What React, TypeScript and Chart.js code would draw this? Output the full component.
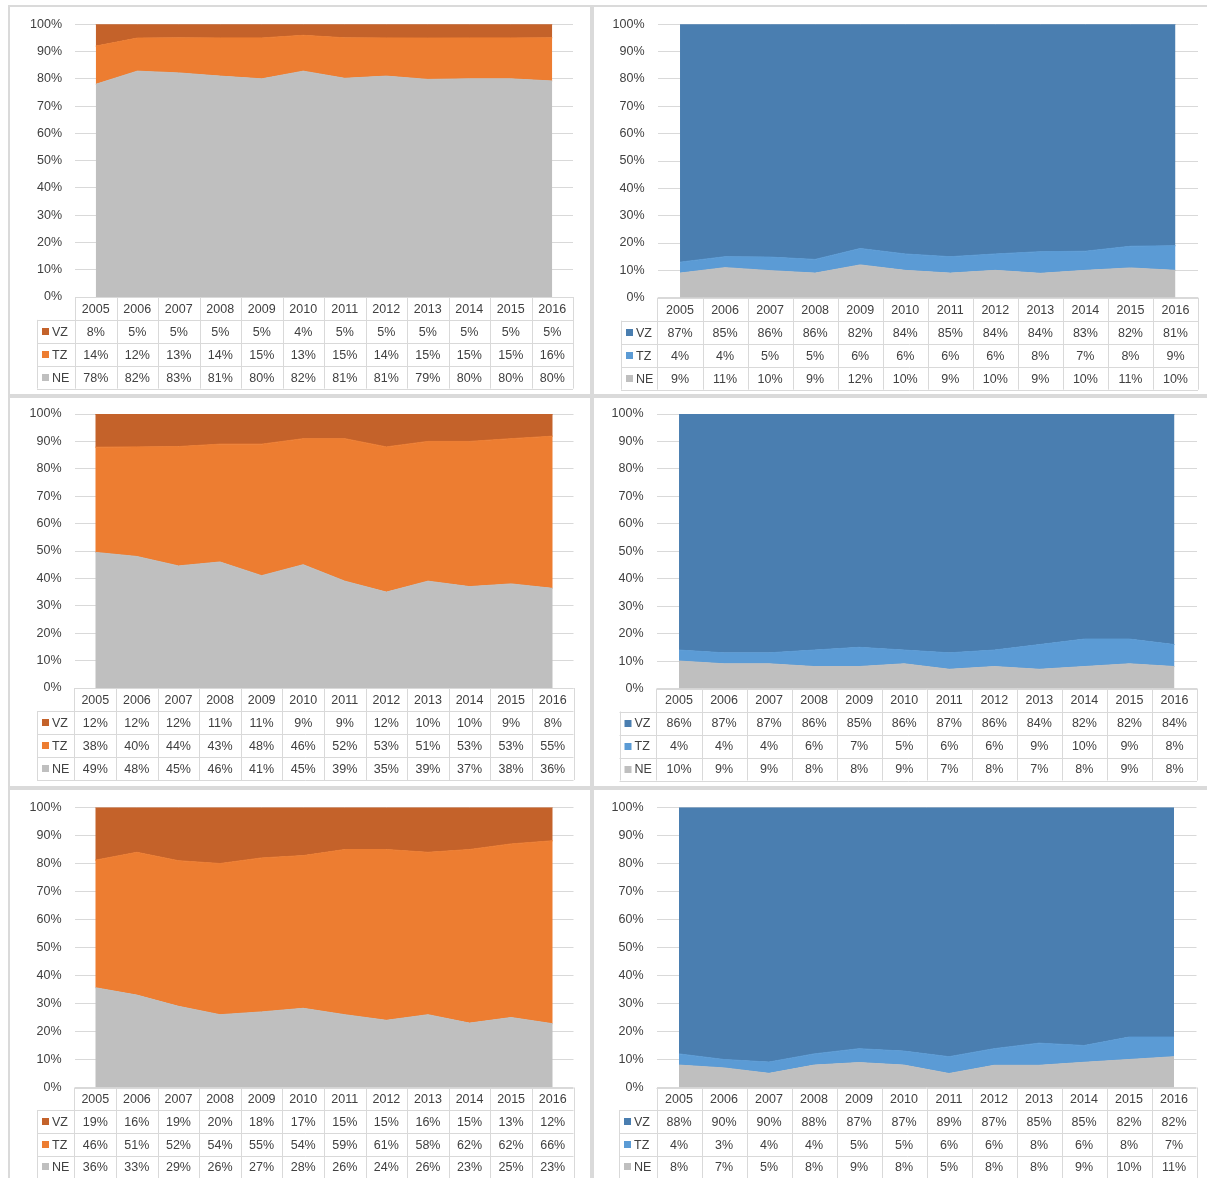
import React, { useEffect, useRef } from "react";
import { Chart, registerables } from "chart.js";

Chart.register(...registerables);

const years = ["2005", "2006", "2007", "2008", "2009", "2010", "2011", "2012", "2013", "2014", "2015", "2016"];
const yTicks = [0, 10, 20, 30, 40, 50, 60, 70, 80, 90, 100];
const rowNames = ["VZ", "TZ", "NE"];

const p1VZ = [8, 5, 5, 5, 5, 4, 5, 5, 5, 5, 5, 5];
const p1TZ = [14, 12, 13, 14, 15, 13, 15, 14, 15, 15, 15, 16];
const p1NE = [78, 82, 83, 81, 80, 82, 81, 81, 79, 80, 80, 80];

const p2VZ = [87, 85, 86, 86, 82, 84, 85, 84, 84, 83, 82, 81];
const p2TZ = [4, 4, 5, 5, 6, 6, 6, 6, 8, 7, 8, 9];
const p2NE = [9, 11, 10, 9, 12, 10, 9, 10, 9, 10, 11, 10];

const p3VZ = [12, 12, 12, 11, 11, 9, 9, 12, 10, 10, 9, 8];
const p3TZ = [38, 40, 44, 43, 48, 46, 52, 53, 51, 53, 53, 55];
const p3NE = [49, 48, 45, 46, 41, 45, 39, 35, 39, 37, 38, 36];

const p4VZ = [86, 87, 87, 86, 85, 86, 87, 86, 84, 82, 82, 84];
const p4TZ = [4, 4, 4, 6, 7, 5, 6, 6, 9, 10, 9, 8];
const p4NE = [10, 9, 9, 8, 8, 9, 7, 8, 7, 8, 9, 8];

const p5VZ = [19, 16, 19, 20, 18, 17, 15, 15, 16, 15, 13, 12];
const p5TZ = [46, 51, 52, 54, 55, 54, 59, 61, 58, 62, 62, 66];
const p5NE = [36, 33, 29, 26, 27, 28, 26, 24, 26, 23, 25, 23];

const p6VZ = [88, 90, 90, 88, 87, 87, 89, 87, 85, 85, 82, 82];
const p6TZ = [4, 3, 4, 4, 5, 5, 6, 6, 8, 6, 8, 7];
const p6NE = [8, 7, 5, 8, 9, 8, 5, 8, 8, 9, 10, 11];

const orangeColors = { vz: "#c4622a", tz: "#ed7d31", ne: "#bfbfbf" };
const blueColors = { vz: "#4a7eb0", tz: "#5b9bd5", ne: "#bfbfbf" };

const FONT = '"Liberation Sans", Arial, sans-serif';
const FONT_SIZE = 12.5;
const TEXT = "#404040";

type Box = { x: number; y: number; w: number; h: number };
type Plot = { l: number; r: number; t: number; b: number };
type PanelCfg = {
  vz: number[];
  tz: number[];
  ne: number[];
  colors: { vz: string; tz: string; ne: string };
  box: Box;
  plot: Plot;
  labelLeft: number;
  rowH: number;
};

const panels: PanelCfg[] = [
  { vz: p1VZ, tz: p1TZ, ne: p1NE, colors: orangeColors, box: { x: 12, y: 0, w: 578, h: 392 }, plot: { l: 75, r: 573, t: 24.3, b: 297 }, labelLeft: 37, rowH: 22.9 },
  { vz: p2VZ, tz: p2TZ, ne: p2NE, colors: blueColors, box: { x: 596, y: 0, w: 608, h: 392 }, plot: { l: 657.5, r: 1198, t: 24.3, b: 297.7 }, labelLeft: 621, rowH: 23 },
  { vz: p3VZ, tz: p3TZ, ne: p3NE, colors: orangeColors, box: { x: 12, y: 390, w: 578, h: 395 }, plot: { l: 74.5, r: 573.5, t: 414, b: 688 }, labelLeft: 37, rowH: 23 },
  { vz: p4VZ, tz: p4TZ, ne: p4NE, colors: blueColors, box: { x: 596, y: 390, w: 608, h: 395 }, plot: { l: 656.5, r: 1197, t: 414, b: 688.5 }, labelLeft: 619.5, rowH: 23 },
  { vz: p5VZ, tz: p5TZ, ne: p5NE, colors: orangeColors, box: { x: 12, y: 783, w: 578, h: 395 }, plot: { l: 74.5, r: 573.5, t: 807.5, b: 1087.5 }, labelLeft: 37, rowH: 22.7 },
  { vz: p6VZ, tz: p6TZ, ne: p6NE, colors: blueColors, box: { x: 596, y: 783, w: 608, h: 395 }, plot: { l: 656.5, r: 1196.5, t: 807.5, b: 1087.5 }, labelLeft: 619, rowH: 22.7 },
];

function Panel({ cfg }: { cfg: PanelCfg }) {
  const ref = useRef<HTMLCanvasElement>(null);
  useEffect(() => {
    if (!ref.current) return;
    const { box, plot } = cfg;
    const sums = cfg.ne.map((v, i) => v + cfg.tz[i] + cfg.vz[i]);
    const norm = (arr: number[]) => arr.map((v, i) => (v / sums[i]) * 100);
    const rowData = [cfg.vz, cfg.tz, cfg.ne];
    const rowColors = [cfg.colors.vz, cfg.colors.tz, cfg.colors.ne];

    const tablePlugin = {
      id: "dataTable",
      afterDraw(chart: any) {
        const ctx = chart.ctx as CanvasRenderingContext2D;
        const xs = chart.scales.x;
        const area = chart.chartArea;
        const n = years.length;
        const c0 = xs.getPixelForValue(0);
        const c1 = xs.getPixelForValue(1);
        const colW = c1 - c0;
        const edge = (j: number) => c0 - colW / 2 + j * colW;
        const top = area.bottom;
        const rh = cfg.rowH;
        const labelL = cfg.labelLeft - box.x;
        const px = (v: number) => Math.round(v) + 0.5;
        ctx.save();
        ctx.strokeStyle = "#d9d9d9";
        ctx.lineWidth = 1;
        ctx.beginPath();
        for (let k = 0; k <= 4; k++) {
          const y = px(top + k * rh);
          ctx.moveTo(k === 0 ? edge(0) : labelL, y);
          ctx.lineTo(edge(n), y);
        }
        for (let j = 0; j <= n; j++) {
          const xx = px(edge(j));
          ctx.moveTo(xx, top);
          ctx.lineTo(xx, top + 4 * rh);
        }
        ctx.moveTo(px(labelL), top + rh);
        ctx.lineTo(px(labelL), top + 4 * rh);
        ctx.stroke();

        ctx.font = `${FONT_SIZE}px ${FONT}`;
        ctx.fillStyle = TEXT;
        ctx.textAlign = "center";
        ctx.textBaseline = "middle";
        const labels = chart.data.labels as string[];
        for (let i = 0; i < n; i++) {
          const cx = xs.getPixelForValue(i);
          ctx.fillText(labels[i], cx, top + rh / 2 + 1);
          for (let r = 0; r < 3; r++) {
            ctx.fillText(`${rowData[r][i]}%`, cx, top + (r + 1) * rh + rh / 2 + 1);
          }
        }
        ctx.textAlign = "left";
        for (let r = 0; r < 3; r++) {
          const cy = top + (r + 1) * rh + rh / 2;
          ctx.fillStyle = rowColors[r];
          ctx.fillRect(labelL + 5, Math.round(cy - 3.5), 7, 7);
          ctx.fillStyle = TEXT;
          ctx.fillText(rowNames[r], labelL + 15, cy + 1);
        }
        ctx.restore();
      },
    };

    const mk = (label: string, data: number[], color: string, fill: any) => ({
      label,
      data,
      backgroundColor: color,
      borderColor: color,
      borderWidth: 1,
      pointRadius: 0,
      pointHoverRadius: 0,
      tension: 0,
      fill,
    });

    const chart = new Chart(ref.current, {
      type: "line",
      data: {
        labels: years,
        datasets: [
          mk("NE", norm(cfg.ne), cfg.colors.ne, "origin"),
          mk("TZ", norm(cfg.tz), cfg.colors.tz, "-1"),
          mk("VZ", norm(cfg.vz), cfg.colors.vz, "-1"),
        ],
      },
      options: {
        responsive: false,
        animation: false,
        devicePixelRatio: 1,
        layout: {
          padding: {
            left: 0,
            top: plot.t - box.y,
            right: box.w - (plot.r - box.x),
            bottom: box.h - (plot.b - box.y),
          },
        },
        plugins: { legend: { display: false }, tooltip: { enabled: false } },
        scales: {
          x: { type: "category", display: false, offset: true, grid: { display: false } },
          y: {
            stacked: true,
            min: 0,
            max: 100,
            afterFit: (s: any) => {
              s.width = plot.l - box.x;
            },
            afterBuildTicks: (s: any) => {
              s.ticks = yTicks.map((v) => ({ value: v }));
            },
            ticks: {
              padding: 13,
              color: TEXT,
              font: { family: FONT, size: FONT_SIZE },
              callback: (v: any) => `${v}%`,
            },
            grid: { color: "#d9d9d9", drawTicks: false, lineWidth: 1 },
            border: { display: false },
          },
        },
      } as any,
      plugins: [tablePlugin],
    });
    return () => chart.destroy();
  }, [cfg]);
  return (
    <canvas
      ref={ref}
      width={cfg.box.w}
      height={cfg.box.h}
      style={{ position: "absolute", left: cfg.box.x, top: cfg.box.y, width: cfg.box.w, height: cfg.box.h }}
    />
  );
}

const frames = [
  { x: 8, y: 5, w: 584, h: 391 },
  { x: 592, y: 5, w: 625, h: 391 },
  { x: 8, y: 396, w: 584, h: 392 },
  { x: 592, y: 396, w: 625, h: 392 },
  { x: 8, y: 788, w: 584, h: 400 },
  { x: 592, y: 788, w: 625, h: 400 },
];

export default function App() {
  return (
    <div style={{ position: "absolute", left: 0, top: 0, width: 1207, height: 1178, background: "#fff", overflow: "hidden" }}>
      {frames.map((f, i) => (
        <div
          key={"f" + i}
          style={{ position: "absolute", left: f.x, top: f.y, width: f.w, height: f.h, boxSizing: "border-box", border: "2px solid #dadada" }}
        />
      ))}
      {panels.map((p, i) => (
        <Panel key={i} cfg={p} />
      ))}
    </div>
  );
}
